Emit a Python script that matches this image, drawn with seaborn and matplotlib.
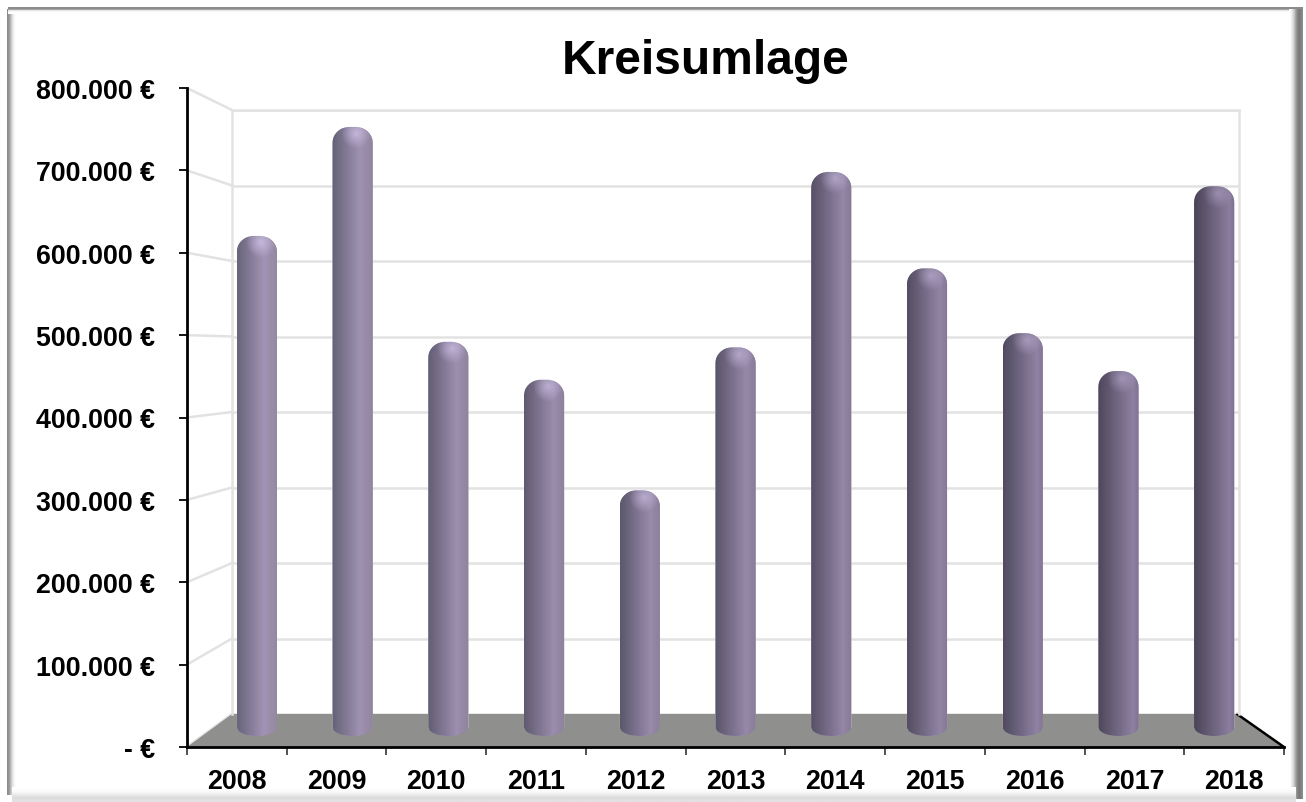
import numpy as np
import pandas as pd
import matplotlib
matplotlib.use("Agg")
import matplotlib.pyplot as plt
from matplotlib.path import Path
import seaborn as sns

W, H = 1306, 803

# values
years = ["2008", "2009", "2010", "2011", "2012", "2013", "2014", "2015", "2016", "2017", "2018"]
values = [633000, 771000, 499000, 451000, 311000, 492000, 714000, 592000, 510000, 462000, 696000]
y_ticks = [0, 100000, 200000, 300000, 400000, 500000, 600000, 700000, 800000]
y_labels = ["- €", "100.000 €", "200.000 €", "300.000 €", "400.000 €",
            "500.000 €", "600.000 €", "700.000 €", "800.000 €"]

sns.set_theme(style="white")
plt.rcParams["font.family"] = ["Liberation Sans", "DejaVu Sans"]
plt.rcParams["font.weight"] = "bold"
GRID = "#e2e2e2"


def px_axes(left, top, right, bottom):
    """axes placed by its pixel box in the 1306x803 picture"""
    ax = fig.add_axes([left / W, 1 - bottom / H, (right - left) / W, (bottom - top) / H])
    ax.patch.set_alpha(0)
    return ax


def fade(ax, x0, x1, y0, y1, grays, vertical=False):
    """soft bevel strip of the outer frame"""
    arr = np.array(grays, dtype=float)
    arr = arr[:, None] if vertical else arr[None, :]
    ax.imshow(arr, cmap="gray", vmin=0, vmax=1, extent=(x0, x1, y1, y0), aspect="auto",
              interpolation="bilinear", zorder=1)


def hex_rgb(c):
    return np.array(matplotlib.colors.to_rgb(c))


def bar_image(i, wpx, hpx):
    """cylinder shading for bar i, gets darker towards the right of the chart"""
    t = i / 10
    dark = hex_rgb("#69647a") * (1 - t) + hex_rgb("#4a4458") * t
    light = hex_rgb("#a193b4") * (1 - t) + hex_rgb("#8b7e9e") * t
    edge = hex_rgb("#94889f") * (1 - t) + hex_rgb("#7d7190") * t
    peak = 0.66 + 0.22 * t
    nw, nh = int(wpx) * 2, int(hpx)
    u = np.linspace(0, 1, nw)
    mix = np.clip(u / peak, 0, 1)
    row = dark[None, :] * (1 - mix[:, None]) + light[None, :] * mix[:, None]
    over = np.clip((u - peak) / (1 - peak), 0, 1)[:, None]
    row = row * (1 - over) + edge[None, :] * over
    img = np.repeat(row[None, :, :], nh, axis=0)
    # light spot on the round top
    yy, xx = np.mgrid[0:nh, 0:nw]
    d = np.hypot((xx / nw - 0.58) / 0.36, (yy - 7.0) / 15.0)
    glow = np.clip(1 - d, 0, 1)[:, :, None] * (0.95 - 0.5 * t)
    img = img * (1 - glow) + hex_rgb("#c6bade")[None, None, :] * glow
    return np.clip(img, 0, 1)


fig = plt.figure(figsize=(W / 100, H / 100), dpi=100, facecolor="white")

# outer frame
bg = fig.add_axes([0, 0, 1, 1])
fade(bg, 7, 17, 10, 796, [0.55, 0.62, 0.78, 0.9, 0.97, 1.0])
fade(bg, 8, 1303, 8, 15, [0.55, 0.55, 0.9, 1.0, 1.0], vertical=True)
fade(bg, 1289, 1303, 10, 800, [1.0, 0.92, 0.8, 0.62, 0.5, 0.47, 0.55])
fade(bg, 12, 1296, 788, 803, [1.0, 0.98, 0.93, 0.86, 0.88], vertical=True)

# back wall with the gridlines
wall = px_axes(232, 111, 1239, 715)
wall.set_ylim(0, 800000)
wall.set_xlim(0, 1)
wall.set_yticks(y_ticks)
wall.set_xticks([])
wall.tick_params(left=False, labelleft=False)
wall.grid(True, axis="y", color=GRID, lw=1.8)
for s in ["left", "right", "top"]:
    wall.spines[s].set_color(GRID)
    wall.spines[s].set_linewidth(1.8)
wall.spines["bottom"].set_visible(False)

# side wall lines and the floor
for v in y_ticks:
    yf = 748 - v / 800000 * (748 - 89)
    yb = 715 - v / 800000 * (715 - 111)
    bg.plot([187, 232], [yf, yb], color=GRID, lw=1.8, zorder=2)
bg.fill([187, 232, 1237, 1284], [748, 715, 715, 748], color="#8f8f8d", lw=0, zorder=3)
bg.plot([1237, 1284], [715, 748], color="black", lw=1.8, zorder=4)
bg.set_xlim(0, W)
bg.set_ylim(H, 0)
bg.axis("off")

# front axes, carries the tick labels
front = px_axes(187, 89, 1284, 748)
front.set_xlim(-0.5, 10.5)
front.set_ylim(0, 800000)
front.set_yticks(y_ticks)
front.set_yticklabels(y_labels, fontsize=19.3, fontweight="bold", color="black")
front.set_xticks(np.arange(-0.5, 11))
front.set_xticklabels([])
front.set_xticks(np.arange(11), labels=years, minor=True)
front.tick_params(axis="y", direction="out", length=6, width=1.3, color="black", pad=17, left=True)
front.tick_params(axis="x", which="major", direction="out", length=6, width=1.2, color="#333333", bottom=True)
front.tick_params(axis="x", which="minor", length=0, pad=15, labelsize=19.3, labelcolor="black")
for lab in front.get_xticklabels(minor=True):
    lab.set_fontweight("bold")
for s in ["top", "right"]:
    front.spines[s].set_visible(False)
for s in ["left", "bottom"]:
    front.spines[s].set_color("black")
    front.spines[s].set_linewidth(2)

# the columns, on a plane between the front axes and the wall
bars = px_axes(209, 105, 1262, 737)
df = pd.DataFrame({"jahr": years, "wert": values})
sns.barplot(data=df, x="jahr", y="wert", ax=bars, color="#8f83a3", width=0.42, saturation=1, zorder=5)
bars.set_xlim(-0.5, 10.5)
bars.set_ylim(0, 800000)
dx = 11 / (1262 - 209)
dy = 800000 / (737 - 105)
arc = np.linspace(0, np.pi / 2, 12)
for i, p in enumerate(bars.patches):
    x0, w, h = p.get_x(), p.get_width(), p.get_height()
    rx, ry = 17 * dx, 16 * dy
    # round top, shallow ellipse at the foot
    foot = np.linspace(np.pi, 2 * np.pi, 25)
    fx = x0 + w / 2 + w / 2 * np.cos(foot)
    fy = 9 * dy + 9 * dy * np.sin(foot)
    rx_pts = x0 + w - rx + rx * np.cos(arc)
    ry_pts = h - ry + ry * np.sin(arc)
    lx_pts = x0 + rx - rx * np.cos(arc[::-1])
    ly_pts = h - ry + ry * np.sin(arc[::-1])
    verts = np.vstack([np.column_stack([fx, fy]),
                       np.column_stack([rx_pts, ry_pts]),
                       np.column_stack([lx_pts, ly_pts])])
    verts = np.vstack([verts, verts[0]])
    shape = Path(verts)
    p.set_clip_path(shape, bars.transData)
    im = bars.imshow(bar_image(i, w / dx, h / dy), extent=(x0, x0 + w, 0, h), aspect="auto",
                     interpolation="bilinear", zorder=6)
    im.set_clip_path(shape, bars.transData)
bars.set_xlim(-0.5, 10.5)
bars.set_ylim(0, 800000)
bars.axis("off")

fig.text(706 / W, 1 - 61 / H, "Kreisumlage", fontsize=34.5, fontweight="bold", color="black",
         ha="center", va="center")

fig.savefig("out.png", dpi=100)
